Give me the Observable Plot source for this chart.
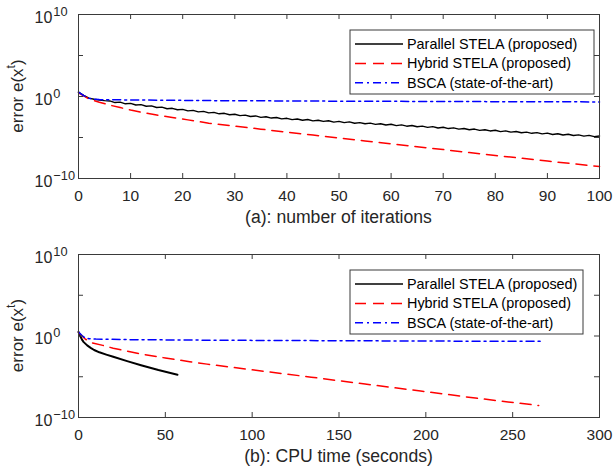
<!DOCTYPE html>
<html><head><meta charset="utf-8">
<script src="https://cdn.jsdelivr.net/npm/d3@7"></script>
<script src="https://cdn.jsdelivr.net/npm/@observablehq/plot@0.6"></script>
<style>
body{margin:0;background:#fff;}
#chart{width:613px;height:468px;position:relative;font-family:"Liberation Sans",Arial,sans-serif;}
#chart svg{display:block;}
</style></head><body><div id="chart"></div>
<script>
// ---- series metadata ----
const seriesNames = ["Parallel STELA (proposed)", "Hybrid STELA (proposed)", "BSCA (state-of-the-art)"];
const seriesColors = ["#000000", "#ff0000", "#0000ff"];
const seriesDash = [null, "11,7", "8,4,2,4"];

// ---- panel (a): log10 of error vs number of iterations ----
const parallelIterLog = [0.53, 0.15, -0.20, -0.33, -0.42, -0.50, -0.54, -0.74, -0.69, -0.89, -0.84, -1.04, -0.99, -1.19, -1.14, -1.34, -1.29, -1.49, -1.44, -1.62, -1.57, -1.75, -1.69, -1.88, -1.82, -2.00, -1.93, -2.11, -2.05, -2.22, -2.16, -2.33, -2.27, -2.44, -2.37, -2.54, -2.47, -2.63, -2.56, -2.73, -2.66, -2.82, -2.74, -2.89, -2.81, -2.97, -2.89, -3.04, -2.96, -3.12, -3.03, -3.19, -3.10, -3.26, -3.18, -3.33, -3.25, -3.40, -3.32, -3.47, -3.39, -3.55, -3.46, -3.62, -3.54, -3.69, -3.61, -3.76, -3.68, -3.84, -3.75, -3.91, -3.82, -3.98, -3.90, -4.05, -3.97, -4.13, -4.05, -4.20, -4.12, -4.28, -4.19, -4.35, -4.27, -4.42, -4.34, -4.49, -4.41, -4.56, -4.47, -4.63, -4.54, -4.70, -4.61, -4.76, -4.68, -4.83, -4.74, -4.90, -4.81];
const parallelIter = d3.range(parallelIterLog.length);
const hybridIter = [0, 2, 4, 6, 8, 10, 12, 15, 18, 21, 25, 30, 35, 40, 45, 50, 55, 60, 65, 70, 75, 80, 85, 90, 95, 100];
const hybridIterLog = [0.45, -0.30, -0.70, -1.05, -1.35, -1.65, -1.92, -2.25, -2.55, -2.85, -3.25, -3.62, -3.98, -4.35, -4.70, -5.06, -5.42, -5.77, -6.12, -6.47, -6.83, -7.20, -7.53, -7.87, -8.20, -8.55];
const bscaIter = [0, 1, 2, 3, 4, 10, 25, 50, 75, 100];
const bscaIterLog = [0.53, 0.10, -0.22, -0.33, -0.38, -0.42, -0.50, -0.57, -0.62, -0.66];

// ---- panel (b): log10 of error vs CPU time (seconds) ----
const parallelTime = [0, 1, 2, 3, 5, 7, 9, 12, 16, 20, 28, 36, 46, 57];
const parallelTimeLog = [0.50, 0.00, -0.45, -0.75, -1.15, -1.45, -1.72, -2.00, -2.28, -2.55, -3.08, -3.58, -4.18, -4.75];
const hybridTime = [0, 2, 4, 8, 14, 20, 36, 50, 64, 74, 100, 134, 165, 197, 230, 265];
const hybridTimeLog = [0.47, 0.00, -0.40, -0.85, -1.15, -1.50, -2.20, -2.70, -3.15, -3.45, -4.15, -5.05, -5.90, -6.75, -7.65, -8.53];
const bscaTime = [0, 2, 4, 6, 10, 30, 80, 150, 200, 267];
const bscaTimeLog = [0.50, 0.05, -0.25, -0.33, -0.38, -0.45, -0.52, -0.58, -0.62, -0.66];

// ---- ticks and labels ----
const xTicksA = [0, 10, 20, 30, 40, 50, 60, 70, 80, 90, 100];
const xTicksB = [0, 50, 100, 150, 200, 250, 300];
const yTicks = [1e10, 1e5, 1e0, 1e-5, 1e-10];
const yTickLabels = [1e10, 1e0, 1e-10];
const xLabelA = "(a): number of iterations";
const xLabelB = "(b): CPU time (seconds)";
const yLabelBase = "error e(x";
const yLabelSup = "t";
const yLabelEnd = ")";

const FONT = "Liberation Sans, Arial, Helvetica, sans-serif";
const axisColor = "#3a3a3a";
const textColor = "#262626";

function toRows(xs, logs) { return xs.map((x, i) => ({x, y: Math.pow(10, logs[i])})); }

function panel(opts) {
  const {xDomain, xTicks, xLabel, series, widths, marginTop, marginBottom, height, legendTop} = opts;
  const W = 613, mL = 78, mR = 14;
  const frameH = height - marginTop - marginBottom;
  const frameW = W - mL - mR;
  const lines = series.map((s, i) => Plot.line(toRows(s[0], s[1]), {
    x: "x", y: "y", stroke: seriesColors[i], strokeWidth: widths[i],
    strokeDasharray: seriesDash[i] || undefined, strokeLinejoin: "round"
  }));
  const svg = Plot.plot({
    width: W, height, marginLeft: mL, marginRight: mR, marginTop, marginBottom,
    style: {fontFamily: FONT, fontSize: "15.5px", color: textColor, background: "white", overflow: "visible"},
    x: {domain: xDomain},
    y: {type: "log", domain: [1e-10, 1e10]},
    marks: [
      ...lines,
      Plot.frame({stroke: axisColor, strokeWidth: 1}),
      Plot.tickX(xTicks, {stroke: axisColor, insetTop: frameH - 5}),
      Plot.tickX(xTicks, {stroke: axisColor, insetBottom: frameH - 5}),
      Plot.tickY(yTicks, {stroke: axisColor, insetRight: frameW - 5}),
      Plot.tickY(yTicks, {stroke: axisColor, insetLeft: frameW - 5}),
      Plot.axisX(xTicks, {tickSize: 0, tickPadding: 11, label: null, fill: textColor, fontSize: 15.5}),
      Plot.axisY(yTickLabels, {tickSize: 0, tickPadding: 0, label: null, textAnchor: "start", dx: -44, dy: 3, fill: textColor, fontSize: 16,
        tickFormat: d => "10^" + String(Math.round(Math.log10(d))).replace("-", "\u2212")})
    ]
  });
  const s = d3.select(svg);
  // superscripts on the y tick labels
  s.selectAll("text").each(function() {
    const t = this.textContent;
    if (t.includes("^")) {
      const [base, exp] = t.split("^");
      const el = d3.select(this);
      el.text(base);
      el.append("tspan").attr("font-size", "12.8px").attr("dx", 1).attr("dy", -7).text(exp);
    }
  });
  // x label
  s.append("text").attr("x", mL + frameW / 2).attr("y", height - marginBottom + 45)
    .attr("text-anchor", "middle").attr("font-size", "17.6px").attr("fill", textColor).attr("font-family", FONT).text(xLabel);
  // y label
  const yc = marginTop + frameH / 2;
  const yl = s.append("text").attr("transform", `translate(23,${yc}) rotate(-90)`)
    .attr("text-anchor", "middle").attr("font-size", "17px").attr("fill", textColor).attr("font-family", FONT);
  yl.append("tspan").text(yLabelBase);
  yl.append("tspan").attr("font-size", "12px").attr("dy", -8).text(yLabelSup);
  yl.append("tspan").attr("dy", 8).text(yLabelEnd);
  // legend
  const lg = s.append("g").attr("transform", `translate(350,${legendTop})`).attr("text-anchor", "start");
  lg.append("rect").attr("x", 0).attr("y", 0).attr("width", opts.legendW).attr("height", 64)
    .attr("fill", "white").attr("stroke", axisColor).attr("stroke-width", 1);
  seriesNames.forEach((name, i) => {
    const cy = 14 + i * 19.4;
    lg.append("line").attr("x1", 5).attr("x2", 53).attr("y1", cy).attr("y2", cy)
      .attr("stroke", seriesColors[i]).attr("stroke-width", 1.5)
      .attr("stroke-dasharray", seriesDash[i] || null);
    lg.append("text").attr("x", 57).attr("y", cy + 5).attr("text-anchor", "start").attr("font-size", "14.4px").attr("fill", "#000")
      .attr("font-family", FONT).text(name);
  });
  return svg;
}

const panelA = panel({
  xDomain: [0, 100], xTicks: xTicksA, xLabel: xLabelA,
  series: [[parallelIter, parallelIterLog], [hybridIter, hybridIterLog], [bscaIter, bscaIterLog]],
  widths: [1.4, 1.5, 1.5],
  marginTop: 14, marginBottom: 56, height: 234, legendTop: 30, legendW: 244
});
const panelB = panel({
  xDomain: [0, 300], xTicks: xTicksB, xLabel: xLabelB,
  series: [[parallelTime, parallelTimeLog], [hybridTime, hybridTimeLog], [bscaTime, bscaTimeLog]],
  widths: [2.0, 1.5, 1.5],
  marginTop: 20, marginBottom: 51, height: 234, legendTop: 36, legendW: 233
});
document.getElementById("chart").append(panelA, panelB);
</script></body></html>
